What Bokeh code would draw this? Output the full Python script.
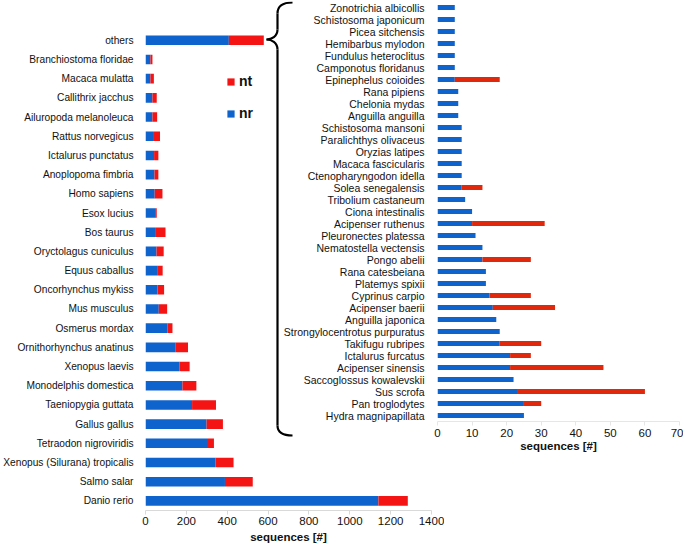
from bokeh.plotting import figure
from bokeh.models import (Range1d, FactorRange, FixedTicker,
                          Legend, LegendItem, ColumnDataSource)
from bokeh.layouts import row
from bokeh.embed import file_html
from bokeh.resources import INLINE

# ---------------- data (top to bottom as in the picture) ----------------
left_species = ["others", "Branchiostoma floridae", "Macaca mulatta", "Callithrix jacchus",
                "Ailuropoda melanoleuca", "Rattus norvegicus", "Ictalurus punctatus",
                "Anoplopoma fimbria", "Homo sapiens", "Esox lucius", "Bos taurus",
                "Oryctolagus cuniculus", "Equus caballus", "Oncorhynchus mykiss",
                "Mus musculus", "Osmerus mordax", "Ornithorhynchus anatinus",
                "Xenopus laevis", "Monodelphis domestica", "Taeniopygia guttata",
                "Gallus gallus", "Tetraodon nigroviridis", "Xenopus (Silurana) tropicalis",
                "Salmo salar", "Danio rerio"]
left_nr = [408, 24, 24, 34, 34, 37, 42, 44, 45, 47, 47, 54, 57, 59, 65, 107, 148, 167,
           181, 228, 299, 301, 342, 389, 1140]
left_nt = [171, 10, 17, 21, 23, 34, 21, 19, 38, 8, 51, 35, 27, 32, 41, 25, 60, 49,
           68, 117, 80, 34, 89, 136, 144]
left_ticks = [0, 200, 400, 600, 800, 1000, 1200, 1400]

right_species = ["Zonotrichia albicollis", "Schistosoma japonicum", "Picea sitchensis",
                 "Hemibarbus mylodon", "Fundulus heteroclitus", "Camponotus floridanus",
                 "Epinephelus coioides", "Rana pipiens", "Chelonia mydas", "Anguilla anguilla",
                 "Schistosoma mansoni", "Paralichthys olivaceus", "Oryzias latipes",
                 "Macaca fascicularis", "Ctenopharyngodon idella", "Solea senegalensis",
                 "Tribolium castaneum", "Ciona intestinalis", "Acipenser ruthenus",
                 "Pleuronectes platessa", "Nematostella vectensis", "Pongo abelii",
                 "Rana catesbeiana", "Platemys spixii", "Cyprinus carpio", "Acipenser baerii",
                 "Anguilla japonica", "Strongylocentrotus purpuratus", "Takifugu rubripes",
                 "Ictalurus furcatus", "Acipenser sinensis", "Saccoglossus kowalevskii",
                 "Sus scrofa", "Pan troglodytes", "Hydra magnipapillata"]
right_nr = [5, 5, 5, 5, 5, 5, 5, 6, 6, 6, 7, 7, 7, 7, 7, 7, 8, 10, 10, 11, 13, 13, 14, 14,
            15, 16, 17, 18, 18, 21, 21, 22, 23, 25, 25]
right_nt = [0, 0, 0, 0, 0, 0, 13, 0, 0, 0, 0, 0, 0, 0, 0, 6, 0, 0, 21, 0, 0, 14, 0, 0,
            12, 18, 0, 0, 12, 6, 27, 0, 37, 5, 0]
right_ticks = [0, 10, 20, 30, 40, 50, 60, 70]

BLUE = "#0F63CC"
RED_L = "#F41414"
RED_R = "#E0280C"
FONT = "Liberation Sans"
TXT = "#111111"

# ---------------- left chart ----------------
FW1, FH1, LEFT1, RIGHT1 = 286, 509, 146, 13
n1 = len(left_species)
y_pos = [n1 - 1 - i for i in range(n1)]
Y_TOP = 26.02
src1 = ColumnDataSource(dict(y=y_pos, nr=left_nr, nt=left_nt, name=left_species))

p1 = figure(frame_width=FW1, frame_height=FH1, min_border_left=LEFT1, min_border_right=RIGHT1,
            min_border_top=0, min_border_bottom=35,
            x_range=Range1d(0, 1400), y_range=Range1d(-0.5, Y_TOP),
            output_backend="svg", toolbar_location=None)
rs1 = p1.hbar_stack(["nr", "nt"], y="y", height=0.5, color=[BLUE, RED_L],
                    line_color=None, source=src1)

p1.xaxis.ticker = FixedTicker(ticks=left_ticks)
p1.xaxis.axis_label = "sequences [#]"
p1.xaxis.axis_label_text_font = FONT
p1.xaxis.axis_label_text_font_style = "bold"
p1.xaxis.axis_label_text_font_size = "11.5px"
p1.xaxis.axis_label_text_color = TXT
p1.xaxis.axis_label_standoff = 3
p1.xaxis.major_label_text_font = FONT
p1.xaxis.major_label_text_font_size = "11.5px"
p1.xaxis.major_label_text_color = TXT
p1.xaxis.major_label_standoff = 2
p1.xaxis.axis_line_color = "#D9D9D9"
p1.xaxis.major_tick_line_color = "#D9D9D9"
p1.xaxis.major_tick_out = 4
p1.xaxis.major_tick_in = 0
p1.xaxis.minor_tick_line_color = None

p1.yaxis.ticker = FixedTicker(ticks=y_pos)
p1.yaxis.major_label_overrides = {y: s for y, s in zip(y_pos, left_species)}
p1.yaxis.major_label_text_font = FONT
p1.yaxis.major_label_text_font_size = "10.2px"
p1.yaxis.major_label_text_color = TXT
p1.yaxis.major_label_standoff = 6
p1.yaxis.axis_line_color = None
p1.yaxis.major_tick_line_color = None
p1.yaxis.minor_tick_line_color = None

p1.xgrid.visible = False
p1.ygrid.visible = False
p1.outline_line_color = None
p1.background_fill_color = None
p1.border_fill_color = None

# brace (decoration), shaped in pixel offsets and mapped into the chart's data space
def dx(px):
    return (px - LEFT1) / FW1 * 1400

def dy(py):
    return -0.5 + (FH1 - py) / FH1 * (Y_TOP + 0.5)

curves = [((293, 1), (278, 12), (283, 1), (278, 5)),
          ((278, 28), (267, 38), (278, 35), (272, 38)),
          ((267, 38), (278, 48), (272, 38), (278, 41)),
          ((278, 424), (293, 434), (278, 431), (283, 434))]
p1.bezier(x0=[dx(c[0][0]) for c in curves], y0=[dy(c[0][1]) for c in curves],
          x1=[dx(c[1][0]) for c in curves], y1=[dy(c[1][1]) for c in curves],
          cx0=[dx(c[2][0]) for c in curves], cy0=[dy(c[2][1]) for c in curves],
          cx1=[dx(c[3][0]) for c in curves], cy1=[dy(c[3][1]) for c in curves],
          line_color="black", line_width=2.2)
p1.segment(x0=[dx(278), dx(278)], y0=[dy(12), dy(48)],
           x1=[dx(278), dx(278)], y1=[dy(28), dy(424)],
           line_color="black", line_width=2.2)

legend = Legend(items=[LegendItem(label="nt", renderers=[rs1[1]]),
                       LegendItem(label="nr", renderers=[rs1[0]])],
                location=(81, 389), padding=0, margin=0, spacing=16,
                glyph_width=9, glyph_height=9, label_height=9, label_standoff=4,
                label_text_font=FONT, label_text_font_size="14px",
                label_text_font_style="bold", label_text_color=TXT,
                border_line_color=None, background_fill_color=None)
p1.add_layout(legend)

# ---------------- right chart ----------------
P2_LEFT = 281
src2 = ColumnDataSource(dict(sp=right_species, nr=right_nr, nt=right_nt))
p2 = figure(frame_width=242, frame_height=420, min_border_left=157, min_border_right=4,
            min_border_top=1, min_border_bottom=38,
            x_range=Range1d(0, 70), y_range=FactorRange(factors=right_species[::-1]),
            output_backend="svg", toolbar_location=None,
            margin=(0, 0, 0, P2_LEFT - (LEFT1 + FW1 + RIGHT1)))
p2.hbar_stack(["nr", "nt"], y="sp", height=0.42, color=[BLUE, RED_R],
              line_color=None, source=src2)

p2.xaxis.ticker = FixedTicker(ticks=right_ticks)
p2.xaxis.axis_label = "sequences [#]"
p2.xaxis.axis_label_text_font = FONT
p2.xaxis.axis_label_text_font_style = "bold"
p2.xaxis.axis_label_text_font_size = "11.5px"
p2.xaxis.axis_label_text_color = TXT
p2.xaxis.axis_label_standoff = 0
p2.xaxis.major_label_text_font = FONT
p2.xaxis.major_label_text_font_size = "11.5px"
p2.xaxis.major_label_text_color = TXT
p2.xaxis.major_label_standoff = 3
p2.xaxis.axis_line_color = "#E6E6E6"
p2.xaxis.major_tick_line_color = "#E6E6E6"
p2.xaxis.major_tick_out = 4
p2.xaxis.major_tick_in = 0
p2.xaxis.minor_tick_line_color = None

p2.yaxis.major_label_text_font = FONT
p2.yaxis.major_label_text_font_size = "10.5px"
p2.yaxis.major_label_text_color = TXT
p2.yaxis.major_label_standoff = 7
p2.yaxis.axis_line_color = None
p2.yaxis.major_tick_line_color = None
p2.yaxis.minor_tick_line_color = None

p2.xgrid.visible = False
p2.ygrid.visible = False
p2.outline_line_color = None
p2.background_fill_color = None
p2.border_fill_color = None

root = row(p1, p2, margin=(0, 0, 0, -1))
open("out.html", "w").write(file_html(root, INLINE))
